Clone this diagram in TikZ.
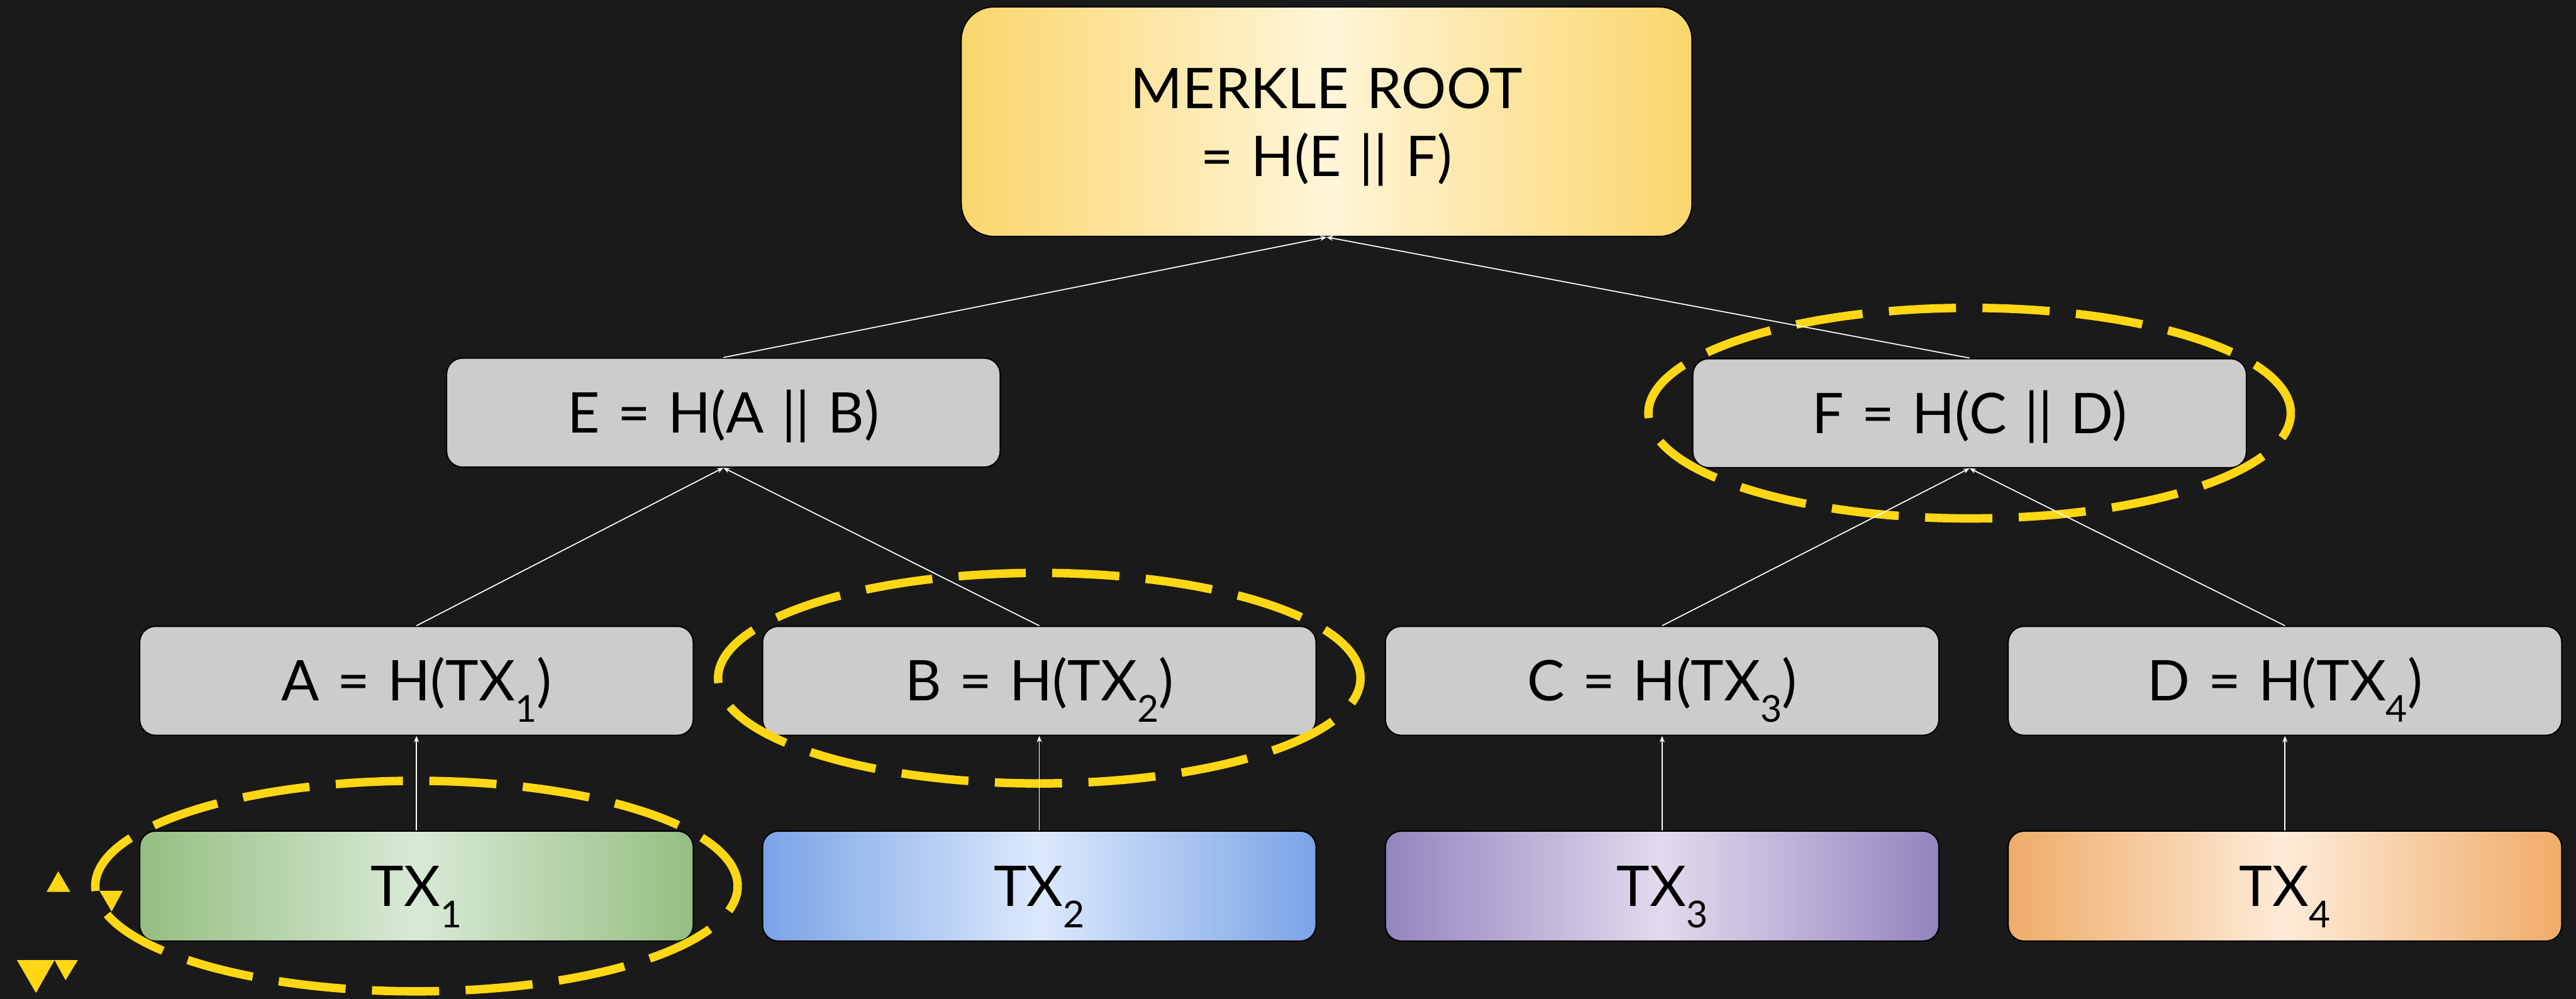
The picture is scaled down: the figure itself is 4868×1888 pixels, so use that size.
\documentclass[tikz,border=0pt]{standalone}
\usepackage{fontspec}
\setmainfont{Lato}[WordSpace=1.25]
\usetikzlibrary{arrows.meta}

\definecolor{canvas}{HTML}{1A1A1A}
\definecolor{hashgray}{HTML}{CCCCCC}
\definecolor{ringyellow}{RGB}{255,215,20}
\definecolor{rootin}{HTML}{FFF5D8}
\definecolor{rootout}{HTML}{FAD66C}
\definecolor{greenin}{HTML}{D8EAD6}
\definecolor{greenout}{HTML}{95BE81}
\definecolor{bluein}{HTML}{DCE9FC}
\definecolor{blueout}{HTML}{7AA3E6}
\definecolor{purplein}{HTML}{E2DAEE}
\definecolor{purpleout}{HTML}{9484BE}
\definecolor{orangein}{HTML}{FDEBD8}
\definecolor{orangeout}{HTML}{EFAC68}

% lowered, smaller index digit
\newcommand\txidx[1]{\raisebox{-10pt}{\fontsize{17.5}{17.5}\selectfont #1}}

\begin{document}
\begin{tikzpicture}[x=0.25pt,y=0.25pt,
  label text/.style={font=\fontsize{26.5}{32}\selectfont},
  box/.style={draw=black, line width=0.6pt, rounded corners=7.5pt,
    minimum width=261.5pt, minimum height=51.5pt, inner sep=0pt,
    label text, text height=19pt, text depth=0pt},
  hashbox/.style={box, fill=hashgray},
  txbox/.style 2 args={box, minimum height=52pt, left color=#2, right color=#2, middle color=#1},
  rootbox/.style={draw=black, line width=0.6pt, rounded corners=15.5pt,
    minimum width=345.25pt, minimum height=108.5pt, inner sep=0pt,
    left color=rootout, right color=rootout, middle color=rootin},
  link/.style={draw=white, line width=0.5pt, -{Stealth[length=3pt,width=2.4pt]}},
  ring/.style={draw=ringyellow, line width=4pt, dash pattern=on 31.75pt off 12.5pt, dash phase=2pt},
  tri/.style={fill=ringyellow}
]
% canvas
\fill[canvas] (0,0) rectangle (4868,-1888);

% root and its two text lines
\node[rootbox] (root) at (2507,-230) {};
\node[label text, anchor=base, inner sep=0pt] (rootname) at (2507,-205) {MERKLE ROOT};
\node[label text, anchor=base, inner sep=0pt] (rootexpr) at (2507,-333) {= H(E || F)};

% inner hashes
\node[hashbox] (E) at (1367,-780) {E = H(A || B)};
\node[hashbox] (F) at (3722,-781) {F = H(C || D)};

% leaf hashes
\node[hashbox] (A) at (787,-1287) {A = H(TX\txidx{1})};
\node[hashbox] (B) at (1964,-1287) {B = H(TX\txidx{2})};
\node[hashbox] (C) at (3141,-1287) {C = H(TX\txidx{3})};
\node[hashbox] (D) at (4318,-1287) {D = H(TX\txidx{4})};

% transactions
\node[txbox={greenin}{greenout}] (T1) at (787,-1675) {TX\txidx{1}};
\node[txbox={bluein}{blueout}] (T2) at (1964,-1675) {TX\txidx{2}};
\node[txbox={purplein}{purpleout}] (T3) at (3141,-1675) {TX\txidx{3}};
\node[txbox={orangein}{orangeout}] (T4) at (4318,-1675) {TX\txidx{4}};

% highlighted proof path
\draw[ring] (787,-1675) ellipse [x radius=607, y radius=199];
\draw[ring] (1964,-1282) ellipse [x radius=607, y radius=199];
\draw[ring] (3722,-781) ellipse [x radius=607, y radius=199];

% small markers
\fill[tri] (110,-1647) -- (88,-1686) -- (133,-1686) -- cycle;
\fill[tri] (188,-1684) -- (232,-1684) -- (211,-1723) -- cycle;
\fill[tri] (32,-1815) -- (103,-1815) -- (68,-1877) -- cycle;
\fill[tri] (103,-1815) -- (147,-1815) -- (124,-1853) -- cycle;

% hashing edges
\draw[link] (E.north) -- (root.south);
\draw[link] (F.north) -- (root.south);
\draw[link] (A.north) -- (E.south);
\draw[link] (B.north) -- (E.south);
\draw[link] (C.north) -- (F.south);
\draw[link] (D.north) -- (F.south);
\draw[link] (T1.north) -- (A.south);
\draw[link] (T2.north) -- (B.south);
\draw[link] (T3.north) -- (C.south);
\draw[link] (T4.north) -- (D.south);
\end{tikzpicture}
\end{document}
